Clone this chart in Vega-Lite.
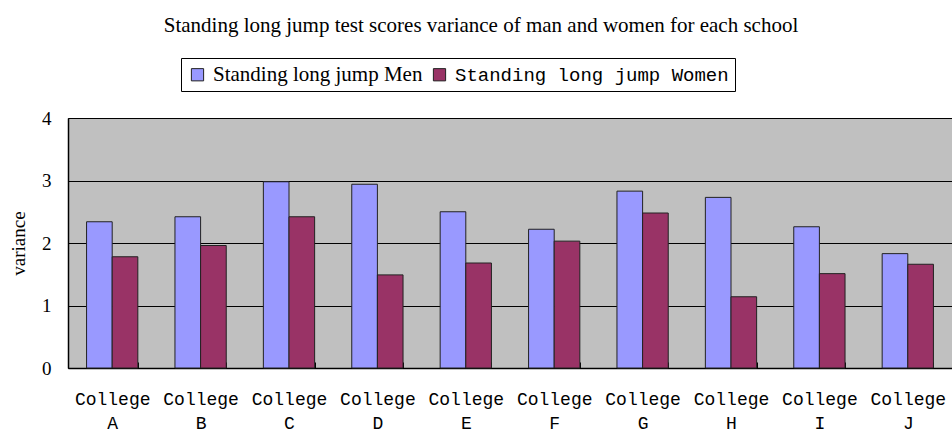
{
  "$schema": "https://vega.github.io/schema/vega-lite/v6.json",
  "width": 884,
  "height": 250,
  "autosize": {"type": "none"},
  "padding": {"left": 68, "top": 118, "right": 0, "bottom": 66},
  "background": "white",
  "title": {
    "text": "Standing long jump test scores variance of man and women for each school",
    "font": "Liberation Serif",
    "fontSize": 21,
    "fontWeight": "normal",
    "color": "black",
    "anchor": "middle",
    "dx": -29,
    "offset": 22
  },
  "data": {
    "values": [
      {"college": "A", "series": "Standing long jump Men", "variance": 2.34},
      {"college": "A", "series": "Standing long jump Women", "variance": 1.78},
      {"college": "B", "series": "Standing long jump Men", "variance": 2.42},
      {"college": "B", "series": "Standing long jump Women", "variance": 1.96},
      {"college": "C", "series": "Standing long jump Men", "variance": 2.98},
      {"college": "C", "series": "Standing long jump Women", "variance": 2.42},
      {"college": "D", "series": "Standing long jump Men", "variance": 2.94},
      {"college": "D", "series": "Standing long jump Women", "variance": 1.49},
      {"college": "E", "series": "Standing long jump Men", "variance": 2.5},
      {"college": "E", "series": "Standing long jump Women", "variance": 1.68},
      {"college": "F", "series": "Standing long jump Men", "variance": 2.22},
      {"college": "F", "series": "Standing long jump Women", "variance": 2.03},
      {"college": "G", "series": "Standing long jump Men", "variance": 2.83},
      {"college": "G", "series": "Standing long jump Women", "variance": 2.48},
      {"college": "H", "series": "Standing long jump Men", "variance": 2.73},
      {"college": "H", "series": "Standing long jump Women", "variance": 1.14},
      {"college": "I", "series": "Standing long jump Men", "variance": 2.26},
      {"college": "I", "series": "Standing long jump Women", "variance": 1.51},
      {"college": "J", "series": "Standing long jump Men", "variance": 1.83},
      {"college": "J", "series": "Standing long jump Women", "variance": 1.66}
    ]
  },
  "mark": {"type": "bar", "stroke": "#222222", "strokeWidth": 1},
  "encoding": {
    "x": {
      "field": "college",
      "type": "nominal",
      "scale": {"paddingInner": 0.42, "paddingOuter": 0.21},
      "axis": {
        "title": null,
        "labelAngle": 0,
        "labelExpr": "datum.label ? ['College', datum.label] : ''",
        "labelFont": "Liberation Mono",
        "labelFontSize": 18,
        "labelColor": "black",
        "labelLineHeight": 24,
        "labelPadding": 28,
        "labelBaseline": "top",
        "labelFlush": false,
        "tickBand": "extent",
        "tickSize": -6,
        "tickColor": "black",
        "domainColor": "black",
        "domainWidth": 1.5,
        "grid": false
      }
    },
    "xOffset": {"field": "series", "type": "nominal", "scale": {"paddingInner": 0, "paddingOuter": 0}},
    "y": {
      "field": "variance",
      "type": "quantitative",
      "scale": {"domain": [0, 4]},
      "axis": {
        "title": "variance",
        "titleFont": "Liberation Serif",
        "titleFontSize": 19,
        "titleFontWeight": "normal",
        "titleColor": "black",
        "titlePadding": 13,
        "values": [0, 1, 2, 3, 4],
        "labelFont": "Liberation Serif",
        "labelFontSize": 19,
        "labelColor": "black",
        "labelPadding": 25,
        "tickSize": -8,
        "tickColor": "black",
        "domainColor": "black",
        "domainWidth": 1.5,
        "grid": true,
        "gridColor": "black",
        "gridWidth": 1,
        "encode": {
          "grid": {"update": {"strokeOpacity": {"signal": "datum.value == 4 ? 0 : 1"}}}
        }
      }
    },
    "color": {
      "field": "series",
      "type": "nominal",
      "scale": {
        "domain": ["Standing long jump Men", "Standing long jump Women"],
        "range": ["#9999FF", "#993366"]
      },
      "legend": {
        "title": null,
        "orient": "none",
        "direction": "horizontal",
        "legendX": 113,
        "legendY": -60,
        "strokeColor": "black",
        "fillColor": "white",
        "padding": 6,
        "symbolType": "square",
        "symbolSize": 150,
        "symbolStrokeColor": "#222222",
        "symbolStrokeWidth": 1,
        "symbolOpacity": 1,
        "labelFontSize": 21,
        "labelColor": "black",
        "labelFont": "Liberation Serif",
        "labelLimit": 400,
        "labelOffset": 5,
        "columnPadding": 6,
        "encode": {
          "labels": {
            "update": {
              "font": {"signal": "datum.label == 'Standing long jump Women' ? 'Liberation Mono' : 'Liberation Serif'"},
              "fontSize": {"signal": "datum.label == 'Standing long jump Women' ? 19 : 21"}
            }
          }
        }
      }
    }
  },
  "config": {
    "view": {"fill": "#C0C0C0", "stroke": null}
  }
}
